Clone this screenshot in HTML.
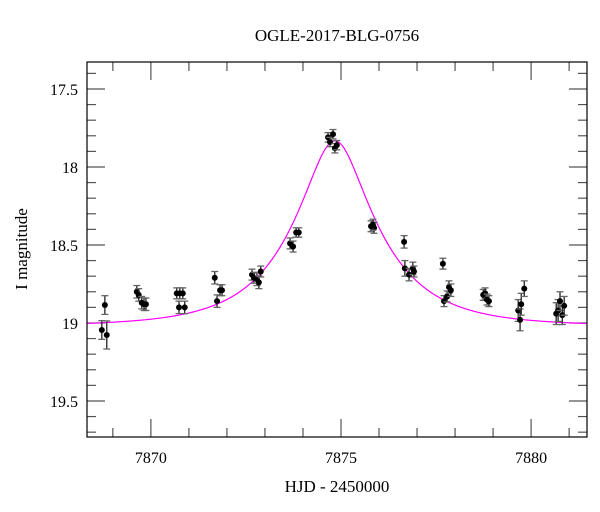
<!DOCTYPE html>
<html><head><meta charset="utf-8"><style>
html,body{margin:0;padding:0;background:#fff}
svg{display:block;font-family:"Liberation Serif",serif}
</style></head><body>
<svg id="chart" width="600" height="512" viewBox="0 0 600 512" xmlns="http://www.w3.org/2000/svg">
<text x="337" y="41" font-size="17" text-anchor="middle">OGLE-2017-BLG-0756</text>
<text x="337" y="492" font-size="17" text-anchor="middle">HJD - 2450000</text>
<text transform="translate(27,249) rotate(-90)" font-size="17" text-anchor="middle">I magnitude</text>
<g id="ticks"></g>
<g id="model"></g>
<g id="pts"></g>
<rect x="87" y="62" width="500" height="375" fill="none" stroke="#000" stroke-width="1.2"/>
</svg>
<script>
const times=[7868.79,7868.71,7868.84,7869.63,7869.68,7869.76,7869.82,7869.87,7870.68,7870.76,7870.84,7870.74,7870.89,7871.68,7871.74,7871.82,7871.87,7872.66,7872.71,7872.79,7872.84,7872.89,7873.66,7873.74,7873.82,7873.89,7874.66,7874.71,7874.79,7874.84,7874.89,7875.79,7875.87,7875.84,7876.66,7876.68,7876.79,7876.89,7876.92,7877.68,7877.71,7877.79,7877.84,7877.89,7878.74,7878.79,7878.84,7878.89,7879.66,7879.71,7879.74,7879.82,7880.66,7880.71,7880.76,7880.82,7880.87];
const mags=[18.885,19.045,19.077,18.80,18.82,18.87,18.88,18.88,18.81,18.81,18.81,18.90,18.90,18.71,18.86,18.79,18.79,18.69,18.71,18.72,18.74,18.67,18.49,18.51,18.42,18.42,17.81,17.84,17.79,17.88,17.86,18.38,18.39,18.37,18.48,18.65,18.69,18.65,18.67,18.62,18.86,18.83,18.77,18.79,18.82,18.81,18.85,18.86,18.92,18.98,18.88,18.78,18.94,18.92,18.86,18.95,18.89];
const errs=[0.06,0.06,0.09,0.04,0.04,0.04,0.04,0.04,0.035,0.035,0.035,0.04,0.04,0.04,0.04,0.035,0.035,0.035,0.035,0.04,0.04,0.035,0.035,0.035,0.03,0.03,0.03,0.03,0.03,0.03,0.03,0.035,0.035,0.035,0.04,0.05,0.04,0.04,0.035,0.035,0.035,0.035,0.04,0.04,0.035,0.035,0.035,0.035,0.07,0.07,0.07,0.05,0.07,0.07,0.06,0.06,0.06];
const xTicks=[7870,7875,7880];
const yTicks=[17.5,18,18.5,19,19.5];
const model={t0:7874.84,tE:2.16,u0:0.35,base:19.02};

const X0=87,X1=587,Y0=62,Y1=437;
const xmin=7868.32,xmax=7881.47,ymin=17.327,ymax=19.731;
const sx=t=>X0+(t-xmin)/(xmax-xmin)*(X1-X0);
const sy=m=>Y0+(m-ymin)/(ymax-ymin)*(Y1-Y0);
const NS='http://www.w3.org/2000/svg';
function mk(tag,attrs,parent){const e=document.createElementNS(NS,tag);for(const k in attrs)e.setAttribute(k,attrs[k]);parent.appendChild(e);return e;}
const tg=document.getElementById('ticks');
const tc='#555';
for(let d=Math.ceil(xmin);d<=xmax;d++){
  const x=sx(d);const major=(d%5===0);const L=major?18:9;
  let a=mk('line',{x1:x,x2:x,y1:Y1,y2:Y1-L,stroke:tc,'stroke-width':1.2},tg);
  
  
  let b=mk('line',{x1:x,x2:x,y1:Y0,y2:Y0+L,stroke:tc,'stroke-width':1.2},tg);
  
  
}
xTicks.forEach(v=>{
  const t=mk('text',{x:sx(v),y:463,'font-size':16,'text-anchor':'middle'},tg);t.textContent=v;
  
  
});
for(let i=Math.ceil(ymin*10);i<=ymax*10;i++){
  const m=i/10,y=sy(m);const major=(i%5===0);const L=major?18:9;
  let a=mk('line',{x1:X0,x2:X0+L,y1:y,y2:y,stroke:tc,'stroke-width':1.2},tg);
  
  
  let b=mk('line',{x1:X1,x2:X1-L,y1:y,y2:y,stroke:tc,'stroke-width':1.2},tg);
  
  
}
yTicks.forEach(v=>{
  const t=mk('text',{x:78,y:sy(v)+6,'font-size':16,'text-anchor':'end'},tg);t.textContent=String(v);
  
  
});
// model curve
let d='';
for(let i=0;i<=500;i++){
  const t=xmin+(xmax-xmin)*i/500;
  const u=Math.sqrt(model.u0*model.u0+Math.pow((t-model.t0)/model.tE,2));
  const A=(u*u+2)/(u*Math.sqrt(u*u+4));
  const m=model.base-2.5*Math.log10(A);
  d+=(i?'L':'M')+sx(t).toFixed(2)+','+sy(m).toFixed(2);
}
const mp=mk('path',{d:d,fill:'none',stroke:'#ff00ff','stroke-width':1.2},document.getElementById('model'));


const pg=document.getElementById('pts');
times.forEach((t,i)=>{
  const x=sx(t),y=sy(mags[i]),e1=sy(mags[i]-errs[i]),e2=sy(mags[i]+errs[i]);
  const g=mk('g',{},pg);
  
  
  mk('line',{x1:x,x2:x,y1:e1,y2:e2,stroke:'#222','stroke-width':1.3},g);
  mk('line',{x1:x-3.5,x2:x+3.5,y1:e1,y2:e1,stroke:'#666','stroke-width':1.3},g);
  mk('line',{x1:x-3.5,x2:x+3.5,y1:e2,y2:e2,stroke:'#666','stroke-width':1.3},g);
  mk('circle',{cx:x,cy:y,r:3,fill:'#000'},g);
});
</script>
</body></html>
